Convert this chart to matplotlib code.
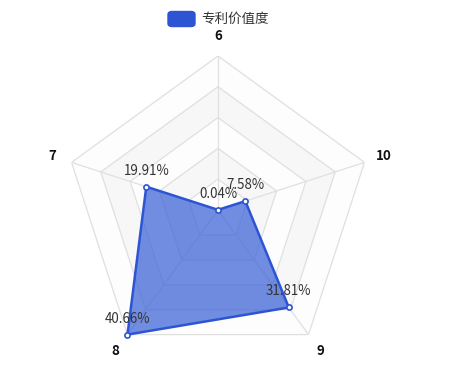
import numpy as np
import matplotlib.pyplot as plt
from matplotlib.patches import FancyBboxPatch

plt.rcParams['font.family'] = ['Noto Sans CJK SC', 'DejaVu Sans']

# data
categories = ['6', '10', '9', '8', '7']
values = [0.04, 7.58, 31.81, 40.66, 19.91]
series_name = '专利价值度'
rmax = 40.66
n_split = 5

W, H = 473, 380
fig = plt.figure(figsize=(W / 100, H / 100), dpi=100)

# radar centre (218, 210) px, radius 154 px
cx, cy, R = 218, 210, 154
ax = fig.add_axes([(cx - R) / W, (H - cy - R) / H, 2 * R / W, 2 * R / H],
                  projection='polar')
ax.set_theta_zero_location('N')
ax.set_theta_direction(-1)
ax.set_ylim(0, rmax)
ax.axis('off')

n = len(categories)
angles = np.linspace(0, 2 * np.pi, n, endpoint=False)
ang_closed = np.append(angles, angles[0])

# split areas + split lines
band_colors = ['#fdfdfd', '#f7f7f7']
for k in range(n_split, 0, -1):
    r = rmax * k / n_split
    ax.fill(ang_closed, [r] * (n + 1), color=band_colors[(k - 1) % 2], zorder=1)
for k in range(1, n_split + 1):
    r = rmax * k / n_split
    ax.plot(ang_closed, [r] * (n + 1), color='#e0e0e0', lw=0.9, zorder=2)
for a in angles:
    ax.plot([a, a], [0, rmax], color='#e0e0e0', lw=0.9, zorder=2)

# series
vals_closed = np.append(values, values[0])
ax.fill(ang_closed, vals_closed, color='#3a62d7', alpha=0.72, zorder=3, lw=0)
ax.plot(ang_closed, vals_closed, color='#2d55d3', lw=1.8, zorder=4)
ax.scatter(angles, values, s=14, facecolor='white', edgecolor='#2d55d3',
           linewidths=1.2, zorder=5, clip_on=False)

# value labels (above points)
for a, v in zip(angles, values):
    ax.annotate(f'{v:.2f}%', (a, v), xytext=(0, 11.5), textcoords='offset points',
                ha='center', va='center', fontsize=9.6, color='#333333', zorder=6)

# axis names
for a, c in zip(angles, categories):
    ax.text(a, rmax * 1.13, c, ha='center', va='center', fontsize=9.6,
            fontweight='bold', color='#111111', clip_on=False)

# legend
fig.patches.append(FancyBboxPatch((168 / W, 1 - 26.5 / H), 27 / W, 15 / H,
                                  boxstyle='round,pad=0,rounding_size=0.008',
                                  transform=fig.transFigure, color='#2d55d3'))
fig.text(201 / W, 1 - 18.5 / H, series_name, ha='left', va='center',
         fontsize=9.75, color='#333333')

fig.savefig('out.png', dpi=100)
